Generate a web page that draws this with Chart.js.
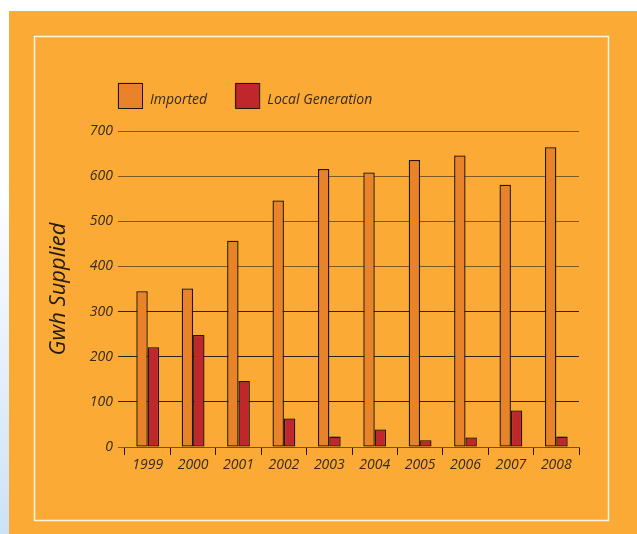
<!DOCTYPE html>
<html>
<head>
<meta charset="utf-8">
<script src="https://cdn.jsdelivr.net/npm/chart.js@4/dist/chart.umd.min.js"></script>
<style>
  html, body { margin: 0; padding: 0; background: #ffffff; }
  canvas { display: block; }
</style>
</head>
<body>
<canvas id="c" width="637" height="534"></canvas>
<script>
// Electricity supplied per year (GWh)
const years = ['1999', '2000', '2001', '2002', '2003', '2004', '2005', '2006', '2007', '2008'];
const imported = [345, 351, 457, 546, 616, 608, 636, 646, 581, 664];
const localGeneration = [221, 248, 146, 63, 23, 39, 15, 21, 81, 23];
const seriesNames = ['Imported', 'Local Generation'];
const yTicks = [0, 100, 200, 300, 400, 500, 600, 700];

const FONT = '"Open Sans", "DejaVu Sans", sans-serif';
const PANEL = '#fbab35';
const INK = '#352a1c';
const OUTLINE = '#20160d';

// Page backdrop: side strip, orange panel and thin frame
const backdrop = {
  id: 'backdrop',
  beforeDraw(chart) {
    const { ctx, width, height } = chart;
    ctx.save();
    ctx.fillStyle = '#ffffff';
    ctx.fillRect(0, 0, width, height);
    const g = ctx.createLinearGradient(0, 180, 0, height);
    g.addColorStop(0, '#ffffff');
    g.addColorStop(1, '#cde2f6');
    ctx.fillStyle = g;
    ctx.fillRect(0, 0, 9, height);
    ctx.fillStyle = PANEL;
    ctx.fillRect(9, 11, width - 9, height - 11);
    ctx.strokeStyle = '#fff6e2';
    ctx.lineWidth = 1.5;
    ctx.strokeRect(34.5, 36.5, 574, 484);
    ctx.restore();
  }
};

// Soft brown halo around the bars
const barHalo = {
  id: 'barHalo',
  beforeDatasetsDraw(chart) {
    const ctx = chart.ctx;
    ctx.save();
    ctx.shadowColor = 'rgba(95, 55, 10, 0.45)';
    ctx.shadowBlur = 1.5;
  },
  afterDatasetsDraw(chart) {
    chart.ctx.restore();
  }
};

// Legend row above the plot
const legendRow = {
  id: 'legendRow',
  afterDraw(chart) {
    const { ctx } = chart;
    ctx.save();
    ctx.font = 'italic 14px ' + FONT;
    ctx.textBaseline = 'middle';
    let x = 118;
    const top = 83, size = 24;
    chart.data.datasets.forEach(ds => {
      ctx.save();
      ctx.shadowColor = 'rgba(95, 55, 10, 0.45)';
      ctx.shadowBlur = 1.5;
      ctx.fillStyle = ds.backgroundColor;
      ctx.fillRect(x, top, size, size + 1);
      ctx.restore();
      ctx.strokeStyle = OUTLINE;
      ctx.lineWidth = 1;
      ctx.strokeRect(x + 0.5, top + 0.5, size, size + 1);
      ctx.fillStyle = INK;
      ctx.fillText(ds.label, x + size + 8, top + 17);
      x += size + 8 + ctx.measureText(ds.label).width + 28;
    });
    ctx.restore();
  }
};

new Chart(document.getElementById('c'), {
  type: 'bar',
  data: {
    labels: years,
    datasets: [
      {
        label: seriesNames[0],
        data: imported,
        backgroundColor: '#e8832a',
        borderColor: OUTLINE,
        borderWidth: 1.3,
        borderSkipped: false
      },
      {
        label: seriesNames[1],
        data: localGeneration,
        backgroundColor: '#c0272d',
        borderColor: OUTLINE,
        borderWidth: 1.3,
        borderSkipped: false
      }
    ]
  },
  options: {
    responsive: false,
    animation: false,
    devicePixelRatio: 1,
    layout: { padding: { left: 0, right: 58, top: 131, bottom: 57 } },
    datasets: { bar: { categoryPercentage: 0.5, barPercentage: 1.0 } },
    plugins: {
      legend: { display: false },
      tooltip: { enabled: false }
    },
    scales: {
      x: {
        afterFit(s) { s.height = 30; },
        grid: {
          offset: true,
          drawOnChartArea: false,
          drawTicks: true,
          tickLength: 8,
          color: OUTLINE,
          lineWidth: 1
        },
        border: { display: true, color: '#6e5024', width: 1 },
        ticks: {
          color: INK,
          padding: 2,
          maxRotation: 0,
          font: { family: FONT, size: 14, style: 'italic' }
        }
      },
      y: {
        min: 0,
        max: 700,
        afterFit(s) { s.width = 125; },
        afterBuildTicks(s) { s.ticks = yTicks.map(v => ({ value: v })); },
        grid: {
          drawTicks: true,
          tickLength: 7,
          lineWidth: 1,
          color(c) {
            const v = c.tick ? c.tick.value : 0;
            return (v >= 100 && v <= 300) ? '#2c241a' : '#7a5a28';
          }
        },
        border: { display: false },
        ticks: {
          color: INK,
          padding: 5,
          font: { family: FONT, size: 14, style: 'italic' }
        },
        title: {
          display: true,
          text: 'Gwh Supplied',
          color: '#241a10',
          padding: { top: 46, bottom: 0 },
          font: { family: FONT, size: 22, style: 'italic' }
        }
      }
    }
  },
  plugins: [backdrop, barHalo, legendRow]
});
</script>
</body>
</html>
